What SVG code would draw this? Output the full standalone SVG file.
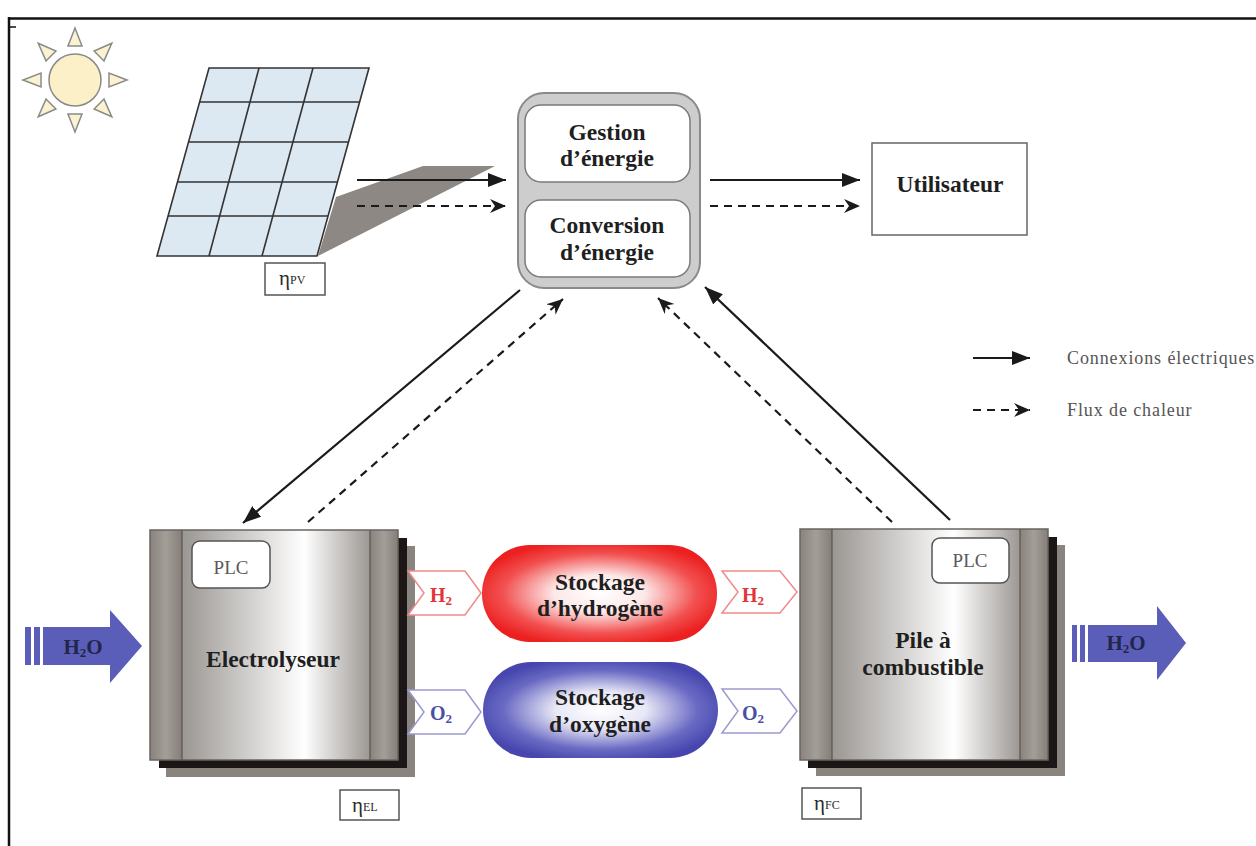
<svg xmlns="http://www.w3.org/2000/svg" width="1256" height="846" viewBox="0 0 1256 846">
  <style>
    .lbl { font-family: "Liberation Serif", "Times New Roman", serif; font-weight: bold; font-size: 23.5px; fill: #1f1f1f; text-anchor: middle; }
    .plc { font-family: "Liberation Serif", "Times New Roman", serif; font-size: 19px; fill: #5a5a5a; text-anchor: middle; }
    .eta { font-family: "Liberation Serif", "Times New Roman", serif; fill: #2a2a2a; }
    .leg { font-family: "Liberation Serif", "Times New Roman", serif; font-size: 18px; fill: #555; letter-spacing: 0.9px; }
    .water { font-family: "Liberation Serif", "Times New Roman", serif; font-weight: bold; font-size: 21px; fill: #22264a; text-anchor: middle; }
    .gas { font-family: "Liberation Serif", "Times New Roman", serif; font-weight: bold; font-size: 20px; }
    .solid { stroke: #1a1a1a; stroke-width: 2.2; fill: none; marker-end: url(#headSolid); }
    .dash { stroke: #1a1a1a; stroke-width: 2.2; fill: none; stroke-dasharray: 8 6; marker-end: url(#headDash); }
    .ray { fill: #fbf2d2; stroke: #8a8a8a; stroke-width: 1.5; }
    .grid { stroke: #333; stroke-width: 1.6; fill: none; }
    .etabox { fill: #fff; stroke: #555; stroke-width: 1.5; }
    .plcbox { fill: #fff; stroke: #555; stroke-width: 1.5; }
    .water-arrow { fill: #5a5eb8; }
  </style>
  <defs>
    <marker id="headSolid" markerUnits="userSpaceOnUse" markerWidth="20" markerHeight="16" refX="18" refY="7" orient="auto">
      <path d="M0,0 L18,7 L0,14 Z" fill="#1a1a1a"/>
    </marker>
    <marker id="headDash" markerUnits="userSpaceOnUse" markerWidth="18" markerHeight="16" refX="16" refY="7" orient="auto">
      <path d="M0,0 L16,7 L0,14 L5,7 Z" fill="#1a1a1a"/>
    </marker>
    <linearGradient id="band" x1="0" y1="0" x2="1" y2="0">
      <stop offset="0" stop-color="#8a837d"/>
      <stop offset="0.5" stop-color="#a49e98"/>
      <stop offset="1" stop-color="#857e78"/>
    </linearGradient>
    <linearGradient id="core" x1="0" y1="0" x2="1" y2="0">
      <stop offset="0" stop-color="#9a9692"/>
      <stop offset="0.65" stop-color="#ffffff"/>
      <stop offset="1" stop-color="#9c9793"/>
    </linearGradient>
    <radialGradient id="redTank" cx="0.5" cy="0.5" r="0.55">
      <stop offset="0" stop-color="#ffffff"/>
      <stop offset="0.35" stop-color="#fde8e8"/>
      <stop offset="0.75" stop-color="#f25050"/>
      <stop offset="1" stop-color="#ec2020"/>
    </radialGradient>
    <radialGradient id="blueTank" cx="0.5" cy="0.5" r="0.55">
      <stop offset="0" stop-color="#ffffff"/>
      <stop offset="0.35" stop-color="#e8e8f6"/>
      <stop offset="0.75" stop-color="#6a6ac4"/>
      <stop offset="1" stop-color="#4646ae"/>
    </radialGradient>
  </defs>

  <rect x="0" y="0" width="1256" height="846" fill="#ffffff"/>

  <!-- outer frame -->
  <g id="frame" stroke="#111" fill="none">
    <line x1="8" y1="18.5" x2="1256" y2="18.5" stroke-width="2.5"/>
    <line x1="9" y1="17" x2="9" y2="846" stroke-width="2.5"/>
    <line x1="10" y1="27" x2="16" y2="27" stroke-width="1.5"/>
  </g>

  <!-- sun -->
  <g id="sun">
    <polygon class="ray" points="75,28 68,46 82,46"/>
    <polygon class="ray" points="75,28 68,46 82,46" transform="rotate(45 75 80)"/>
    <polygon class="ray" points="75,28 68,46 82,46" transform="rotate(90 75 80)"/>
    <polygon class="ray" points="75,28 68,46 82,46" transform="rotate(135 75 80)"/>
    <polygon class="ray" points="75,28 68,46 82,46" transform="rotate(180 75 80)"/>
    <polygon class="ray" points="75,28 68,46 82,46" transform="rotate(225 75 80)"/>
    <polygon class="ray" points="75,28 68,46 82,46" transform="rotate(270 75 80)"/>
    <polygon class="ray" points="75,28 68,46 82,46" transform="rotate(315 75 80)"/>
    <circle cx="75" cy="80" r="26" fill="#fbf0c8" stroke="#8a8a8a" stroke-width="1.5"/>
  </g>

  <!-- photovoltaic panel -->
  <g id="pv-panel">
    <polygon points="318,256 336,197 423,166 495,166" fill="#8d8883"/>
    <polygon points="209,68 369,68 317,256 157,256" fill="#dce8f2"/>
    <g class="grid">
      <polygon points="209,68 369,68 317,256 157,256"/>
      <line x1="259" y1="68" x2="209" y2="256"/>
      <line x1="313" y1="68" x2="262" y2="256"/>
      <line x1="199.6" y1="102" x2="359.6" y2="102"/>
      <line x1="188.5" y1="142" x2="348.5" y2="142"/>
      <line x1="177.4" y1="182" x2="337.4" y2="182"/>
      <line x1="168" y1="216" x2="328" y2="216"/>
    </g>
  </g>
  <g id="eta-pv">
    <rect class="etabox" x="265" y="263" width="60" height="32"/>
    <text class="eta" x="279" y="285" font-size="21">η<tspan font-size="12" dy="-1">PV</tspan></text>
  </g>

  <!-- energy management / conversion unit -->
  <g id="energy-unit">
    <rect x="518" y="93" width="182" height="195" rx="26" fill="#cdcdcd" stroke="#8a8a8a" stroke-width="2"/>
    <rect x="525" y="105" width="165" height="77" rx="16" fill="#ffffff" stroke="#7a7a7a" stroke-width="1.5"/>
    <rect x="525" y="200" width="165" height="77" rx="16" fill="#ffffff" stroke="#7a7a7a" stroke-width="1.5"/>
    <text class="lbl" x="607" y="140">Gestion</text>
    <text class="lbl" x="607" y="166">d’énergie</text>
    <text class="lbl" x="607" y="233">Conversion</text>
    <text class="lbl" x="607" y="260">d’énergie</text>
  </g>

  <!-- user -->
  <g id="utilisateur">
    <rect x="872" y="143" width="155" height="92" fill="#ffffff" stroke="#666" stroke-width="1.5"/>
    <text class="lbl" x="950" y="192">Utilisateur</text>
  </g>

  <!-- legend -->
  <g id="legend">
    <line class="solid" x1="973" y1="358" x2="1030" y2="358"/>
    <text class="leg" x="1067" y="364">Connexions électriques</text>
    <line class="dash" x1="973" y1="410" x2="1030" y2="410" stroke-dasharray="7 5"/>
    <text class="leg" x="1067" y="416">Flux de chaleur</text>
  </g>

  <!-- electrolyser -->
  <g id="electrolyseur">
    <rect x="166" y="546" width="249" height="231" fill="#8a847f"/>
    <rect x="159" y="538" width="248" height="230" fill="#1c1616"/>
    <rect x="150" y="530" width="32" height="230" fill="url(#band)"/>
    <rect x="182" y="530" width="188" height="230" fill="url(#core)"/>
    <rect x="370" y="530" width="28" height="230" fill="url(#band)"/>
    <rect x="150" y="530" width="248" height="230" fill="none" stroke="#6a6460" stroke-width="1.5"/>
    <line x1="182" y1="530" x2="182" y2="760" stroke="#5a5450" stroke-width="1.2"/>
    <line x1="370" y1="530" x2="370" y2="760" stroke="#5a5450" stroke-width="1.2"/>
    <rect class="plcbox" x="192" y="541" width="78" height="47" rx="8"/>
    <text class="plc" x="231" y="574">PLC</text>
    <text class="lbl" x="273" y="667">Electrolyseur</text>
  </g>
  <g id="eta-el">
    <rect class="etabox" x="340" y="790" width="59" height="30"/>
    <text class="eta" x="352" y="812" font-size="21">η<tspan font-size="12" dy="-1">EL</tspan></text>
  </g>

  <!-- fuel cell -->
  <g id="pile-combustible">
    <rect x="816" y="545" width="249" height="231" fill="#8a847f"/>
    <rect x="808" y="537" width="249" height="231" fill="#1c1616"/>
    <rect x="800" y="529" width="32" height="231" fill="url(#band)"/>
    <rect x="832" y="529" width="188" height="231" fill="url(#core)"/>
    <rect x="1020" y="529" width="28" height="231" fill="url(#band)"/>
    <rect x="800" y="529" width="248" height="231" fill="none" stroke="#6a6460" stroke-width="1.5"/>
    <line x1="832" y1="529" x2="832" y2="760" stroke="#5a5450" stroke-width="1.2"/>
    <line x1="1020" y1="529" x2="1020" y2="760" stroke="#5a5450" stroke-width="1.2"/>
    <rect class="plcbox" x="932" y="538" width="77" height="45" rx="8"/>
    <text class="plc" x="970" y="567">PLC</text>
    <text class="lbl" x="923" y="648">Pile à</text>
    <text class="lbl" x="923" y="675">combustible</text>
  </g>
  <g id="eta-fc">
    <rect class="etabox" x="802" y="788" width="59" height="31"/>
    <text class="eta" x="814" y="810" font-size="21">η<tspan font-size="12" dy="-1">FC</tspan></text>
  </g>

  <!-- hydrogen storage -->
  <g id="stockage-h2">
    <rect x="482" y="545" width="235" height="97" rx="48" fill="url(#redTank)"/>
    <text class="lbl" x="600" y="590">Stockage</text>
    <text class="lbl" x="600" y="616">d’hydrogène</text>
  </g>

  <!-- oxygen storage -->
  <g id="stockage-o2">
    <rect x="483" y="662" width="235" height="96" rx="48" fill="url(#blueTank)"/>
    <text class="lbl" x="600" y="705">Stockage</text>
    <text class="lbl" x="600" y="732">d’oxygène</text>
  </g>

  <!-- gas flow tags -->
  <g id="h2-in">
    <polygon points="408,571 465,571 481,593 465,615 408,615 424,593" fill="#ffffff" stroke="#f08a8a" stroke-width="1.5"/>
    <text class="gas" x="430" y="602" fill="#e23535">H<tspan font-size="13" dy="3">2</tspan></text>
  </g>
  <g id="o2-in">
    <polygon points="408,690 465,690 481,712 465,734 408,734 424,712" fill="#ffffff" stroke="#9a9ad0" stroke-width="1.5"/>
    <text class="gas" x="430" y="720" fill="#4a4ea6">O<tspan font-size="13" dy="3">2</tspan></text>
  </g>
  <g id="h2-out">
    <polygon points="722,571 780,571 797,592 780,613 722,613 738,592" fill="#ffffff" stroke="#f08a8a" stroke-width="1.5"/>
    <text class="gas" x="742" y="602" fill="#e23535">H<tspan font-size="13" dy="3">2</tspan></text>
  </g>
  <g id="o2-out">
    <polygon points="722,689 780,689 797,711 780,733 722,733 738,711" fill="#ffffff" stroke="#9a9ad0" stroke-width="1.5"/>
    <text class="gas" x="742" y="720" fill="#4a4ea6">O<tspan font-size="13" dy="3">2</tspan></text>
  </g>

  <!-- water inlet / outlet -->
  <g id="h2o-in">
    <rect class="water-arrow" x="25" y="627" width="6" height="38"/>
    <rect class="water-arrow" x="34" y="627" width="6" height="38"/>
    <polygon class="water-arrow" points="43,627 110,627 110,610 142,646 110,683 110,665 43,665"/>
    <text class="water" x="83" y="654">H<tspan font-size="13" dy="3">2</tspan><tspan dy="-3">O</tspan></text>
  </g>
  <g id="h2o-out">
    <rect class="water-arrow" x="1072" y="625" width="5" height="37"/>
    <rect class="water-arrow" x="1080" y="625" width="5" height="37"/>
    <polygon class="water-arrow" points="1088,625 1157,625 1157,606 1186,643 1157,680 1157,662 1088,662"/>
    <text class="water" x="1126" y="650">H<tspan font-size="13" dy="3">2</tspan><tspan dy="-3">O</tspan></text>
  </g>

  <!-- connectors -->
  <g id="connectors">
    <line class="solid" x1="357" y1="180" x2="506" y2="180"/>
    <line class="dash" x1="357" y1="206" x2="506" y2="206"/>
    <line class="solid" x1="710" y1="180" x2="860" y2="180"/>
    <line class="dash" x1="710" y1="206" x2="860" y2="206"/>
    <line class="solid" x1="520" y1="290" x2="243" y2="523"/>
    <line class="dash" x1="308" y1="522" x2="563" y2="299"/>
    <line class="dash" x1="892" y1="522" x2="658" y2="298"/>
    <line class="solid" x1="950" y1="520" x2="705" y2="287"/>
  </g>
</svg>
